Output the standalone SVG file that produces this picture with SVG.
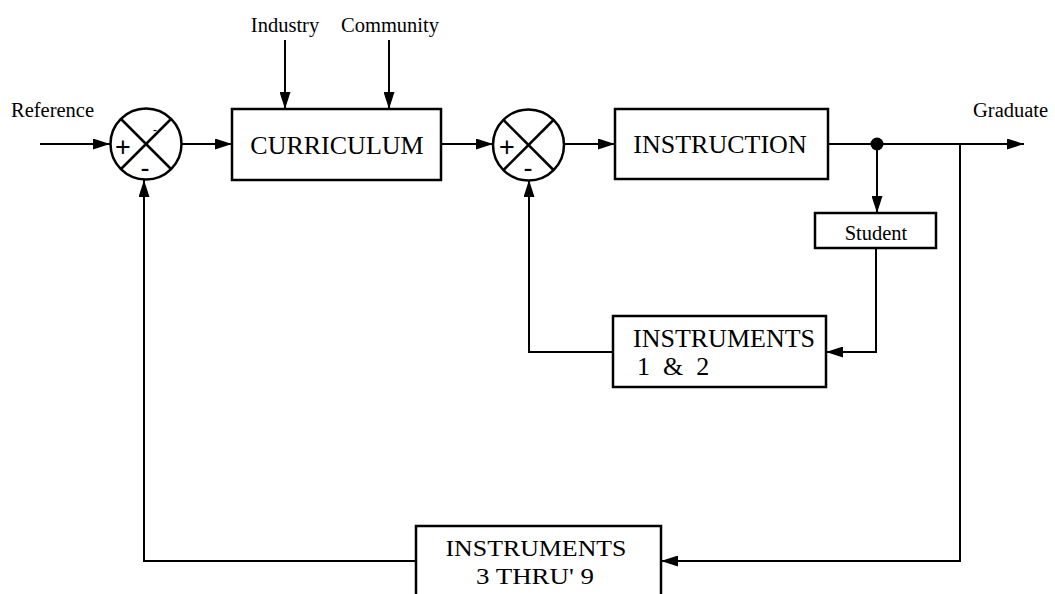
<svg xmlns="http://www.w3.org/2000/svg" width="1055" height="594" viewBox="0 0 1055 594">
<style>
.box{fill:#fff;stroke:#000;stroke-width:2.5}
.sj{fill:#fff;stroke:#000;stroke-width:2.5}
.x{stroke:#000;stroke-width:2.5}
.ln{fill:none;stroke:#000;stroke-width:2}
.big{font-family:"Liberation Serif","Times New Roman",serif;font-size:26px;fill:#000}
.sm{font-family:"Liberation Serif","Times New Roman",serif;font-size:20.5px;fill:#000}
.sg{font-family:"Liberation Sans",Arial,sans-serif;font-size:27px;fill:#000;text-anchor:middle}
</style>
<defs>
<marker id="ah" viewBox="0 0 17 11" refX="17" refY="5.5" markerWidth="17" markerHeight="11" markerUnits="userSpaceOnUse" orient="auto">
<path d="M0,0 L17,5.5 L0,11 Z" fill="#000"/>
</marker>
</defs>
<g id="labels">
<text class="sm" x="11" y="117">Reference</text>
<text class="sm" x="285" y="32" text-anchor="middle">Industry</text>
<text class="sm" x="390" y="32" text-anchor="middle">Community</text>
<text class="sm" x="973" y="117">Graduate</text>
</g>
<g id="connectors">
<line class="ln" x1="40" y1="144" x2="110" y2="144" marker-end="url(#ah)"/>
<line class="ln" x1="182" y1="144" x2="232" y2="144" marker-end="url(#ah)"/>
<line class="ln" x1="285" y1="40" x2="285" y2="109" marker-end="url(#ah)"/>
<line class="ln" x1="389" y1="40" x2="389" y2="109" marker-end="url(#ah)"/>
<line class="ln" x1="441" y1="144" x2="493" y2="144" marker-end="url(#ah)"/>
<line class="ln" x1="564" y1="144" x2="615" y2="144" marker-end="url(#ah)"/>
<line class="ln" x1="828" y1="144" x2="1024" y2="144" marker-end="url(#ah)"/>
<circle cx="877" cy="144" r="6.5" fill="#000"/>
<line class="ln" x1="877" y1="144" x2="877" y2="213" marker-end="url(#ah)"/>
<polyline class="ln" points="876,248 876,352 826,352" marker-end="url(#ah)"/>
<polyline class="ln" points="613,352 529,352 529,180" marker-end="url(#ah)"/>
<polyline class="ln" points="960,144 960,561 661,561" marker-end="url(#ah)"/>
<polyline class="ln" points="416,561 144,561 144,180" marker-end="url(#ah)"/>
</g>
<g id="sum1">
<circle class="sj" cx="146" cy="144" r="35.5"/>
<line class="x" x1="121" y1="119" x2="171" y2="169"/>
<line class="x" x1="171" y1="119" x2="121" y2="169"/>
<text class="sg" x="123" y="156">+</text>
<text class="sg" x="145" y="177">-</text>
<text class="sg" x="155" y="134" style="font-size:12px">-</text>
</g>
<g id="curriculum">
<rect class="box" x="232" y="109" width="209" height="71"/>
<text class="big" x="337" y="154" text-anchor="middle">CURRICULUM</text>
</g>
<g id="sum2">
<circle class="sj" cx="528.5" cy="145" r="35.5"/>
<line class="x" x1="503.5" y1="120" x2="553.5" y2="170"/>
<line class="x" x1="553.5" y1="120" x2="503.5" y2="170"/>
<text class="sg" x="507" y="156">+</text>
<text class="sg" x="528" y="177">-</text>
</g>
<g id="instruction">
<rect class="box" x="615" y="109" width="213" height="70"/>
<text class="big" x="720" y="153" text-anchor="middle">INSTRUCTION</text>
</g>
<g id="student">
<rect class="box" x="815" y="213" width="121" height="35"/>
<text class="sm" x="876" y="240" text-anchor="middle">Student</text>
</g>
<g id="instruments12">
<rect class="box" x="613" y="316" width="213" height="71"/>
<text class="big" x="633" y="347">INSTRUMENTS</text>
<text class="big" x="637" y="375" xml:space="preserve">1  &amp;  2</text>
</g>
<g id="instruments39">
<rect class="box" x="416" y="526" width="245" height="80"/>
<text class="big" x="536" y="556" text-anchor="middle" style="font-size:24px" textLength="181" lengthAdjust="spacingAndGlyphs">INSTRUMENTS</text>
<text class="big" x="535" y="584" text-anchor="middle" style="font-size:24px" textLength="118" lengthAdjust="spacingAndGlyphs">3 THRU' 9</text>
</g>
</svg>
